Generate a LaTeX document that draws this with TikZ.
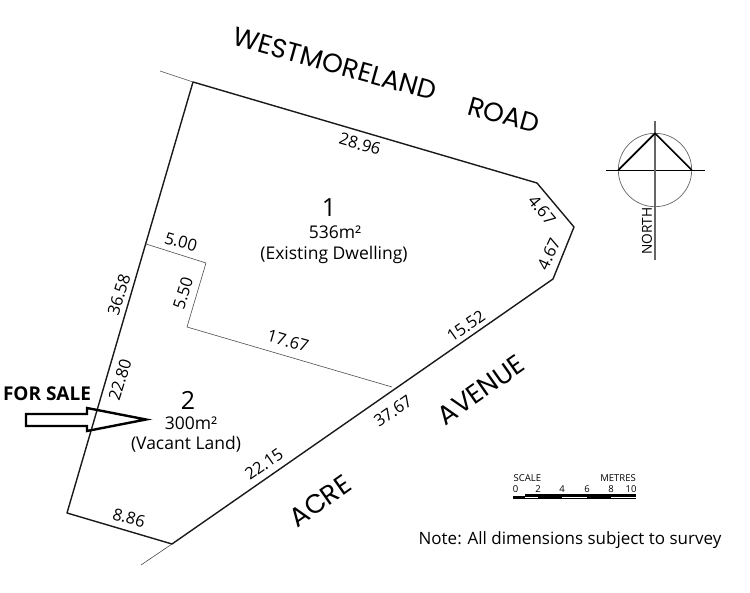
\documentclass[tikz,border=0pt]{standalone}
\usepackage{fontspec}
\setmainfont{Open Sans}
\newfontfamily\gothic{Poppins}
\begin{document}
\begin{tikzpicture}[x=1pt,y=-1pt,
  boundary/.style={line width=1.4pt,black!90},
  thinline/.style={line width=0.6pt,black!70},
  dim/.style={font=\fontsize{16.5}{18}\selectfont,inner sep=0pt},
  road/.style={font=\gothic\fontsize{26.5}{28}\selectfont,inner sep=0pt},
  info/.style={font=\fontsize{17.5}{19}\selectfont,inner sep=0pt},
  lotnum/.style={font=\fontsize{25}{27}\selectfont,inner sep=0pt},
  scaletext/.style={font=\fontsize{9.5}{10}\selectfont,inner sep=0pt}]
\useasboundingbox (0,0) rectangle (750,593);
\coordinate (nw) at (193,82);
\coordinate (nwx) at (160,71);
\coordinate (ne) at (537,183);
\coordinate (ea) at (574,227);
\coordinate (se) at (553,279);
\coordinate (s) at (172,544);
\coordinate (sx) at (141,565);
\coordinate (sw) at (67,513);
\coordinate (a) at (146,244);
\coordinate (b) at (206,263);
\coordinate (c) at (187,327);
\coordinate (d) at (392,387);
\draw[boundary,line join=round] (nw) -- (ne) -- (ea) -- (se) -- (s) -- (sw) -- cycle;
\draw[thinline] (nwx) -- (nw);
\draw[thinline] (s) -- (sx);
\draw[thinline] (a) -- (b) -- (c) -- (d);
% road names
\node[road,rotate=-15.5] (r1) at (335,64) {WESTMORELAND};
\node[road,rotate=-15.5] (r2) at (504,115) {ROAD};
\node[road,rotate=35] (r3) at (481,390) {AVENUE};
\node[road,rotate=35] (r4) at (320,501) {ACRE};
% dimensions
\node[dim,rotate=-16] (d1) at (360,144) {28.96};
\node[dim,rotate=-50] (d2) at (542,210) {4.67};
\node[dim,rotate=65] (d3) at (549,254) {4.67};
\node[dim,rotate=73] (d4) at (119,295) {36.58};
\node[dim,rotate=73] (d5) at (120,380) {22.80};
\node[dim,rotate=-16] (d6) at (181,242) {5.00};
\node[dim,rotate=73] (d7) at (183,293) {5.50};
\node[dim,rotate=-16] (d8) at (288,341) {17.67};
\node[dim,rotate=35] (d9) at (466,326) {15.52};
\node[dim,rotate=35] (d10) at (393,411) {37.67};
\node[dim,rotate=35] (d11) at (264,464) {22.15};
\node[dim,rotate=-16] (d12) at (129,518) {8.86};
% lots
\node[lotnum] (l1) at (329,208) {1};
\node[info] (l1a) at (335,232) {536m²};
\node[info] (l1b) at (334,255) {(Existing Dwelling)};
\node[lotnum] (l2) at (188,400) {2};
\node[info] (l2a) at (191,423) {300m²};
\node[info] (l2b) at (186,444) {(Vacant Land)};
% for sale
\node[font=\bfseries\fontsize{19}{21}\selectfont,inner sep=0pt] (fs) at (47,394) {FOR SALE};
\coordinate (t1) at (26,414);
\coordinate (t2) at (87,414);
\coordinate (t3) at (87,408);
\coordinate (t4) at (146,419.5);
\coordinate (t5) at (87,431);
\coordinate (t6) at (87,426);
\coordinate (t7) at (26,426);
\draw[line width=2.4pt,line join=miter] (t1) -- (t2) -- (t3) -- (t4) -- (t5) -- (t6) -- (t7) -- cycle;
% note
\node[font=\fontsize{17}{19}\selectfont,inner sep=0pt] (note) at (570,540) {Note: All dimensions subject to survey};
% north point
\coordinate (nc) at (655,170);
\draw[black!60,line width=0.7pt] (nc) circle (36.7);
\draw[line width=0.7pt] (605.5,170) -- (704.5,170);
\draw[black!60,line width=1.1pt] (655,121) -- (655,260);
\draw[line width=1.7pt,line join=round] (618.3,170) -- (655,133.3) -- (691.7,170);
\node[font=\fontsize{13.7}{15}\selectfont,inner sep=0pt,rotate=90] (north) at (647,231) {NORTH};
% scale bar
\fill (513,493.5) rectangle (636,498.5);
\fill[white] (513,494) rectangle (525,495.5);
\fill[white] (525,496.5) rectangle (538,498);
\fill[white] (562,496.5) rectangle (587,498);
\fill[white] (611,496.5) rectangle (635.5,498);
\node[scaletext,anchor=west] (sc) at (513.5,478.5) {SCALE};
\node[scaletext,anchor=east] (me) at (636,478.5) {METRES};
\node[scaletext] (s0) at (515.5,489) {0};
\node[scaletext] (s2) at (538,489) {2};
\node[scaletext] (s4) at (562,489) {4};
\node[scaletext] (s6) at (587,489) {6};
\node[scaletext] (s8) at (611,489) {8};
\node[scaletext] (s10) at (631,489) {10};
\end{tikzpicture}
\end{document}
